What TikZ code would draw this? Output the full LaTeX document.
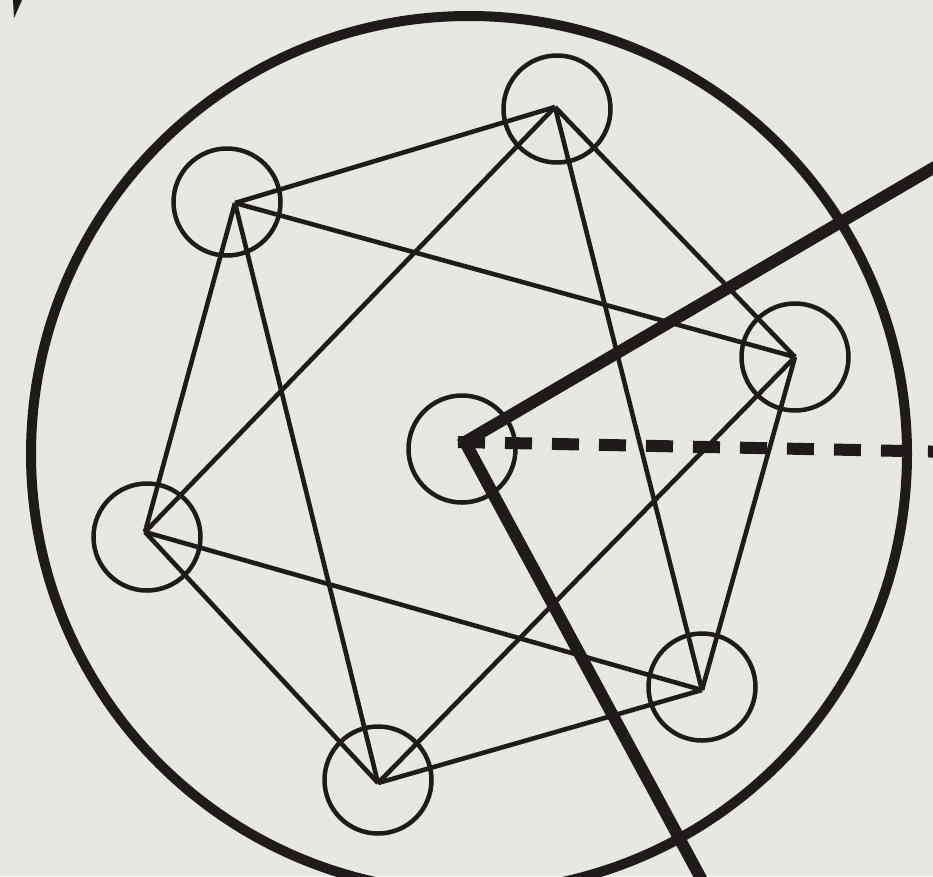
\documentclass[tikz,border=0pt]{standalone}
\begin{document}
\begin{tikzpicture}[x=1pt,y=-1pt,
  ring/.style={circle,draw=inkc,line width=4.5pt,minimum size=107pt,inner sep=0pt},
  thinedge/.style={draw=inkc,line width=4.6pt},
  thickedge/.style={draw=inkc,line width=12pt}]
\definecolor{bgc}{HTML}{E8E8E2}
\definecolor{inkc}{HTML}{1F1B1B}
\fill[bgc] (0,0) rectangle (933,876);
\useasboundingbox (0,0) rectangle (933,876);
\clip (0,0) rectangle (933,876);
% vertices
\coordinate (A) at (555,107);
\coordinate (B) at (235,203);
\coordinate (C) at (795,357);
\coordinate (D) at (145,532);
\coordinate (E) at (702,690);
\coordinate (F) at (378,783);
\coordinate (O) at (465,442);
% rings
\node[ring] (rA) at (557,109) {};
\node[ring] (rB) at (227,202) {};
\node[ring] (rC) at (795,357) {};
\node[ring] (rD) at (147,537) {};
\node[ring] (rE) at (702,687) {};
\node[ring] (rF) at (378,780) {};
\node[ring] (rO) at (462,449) {};
% edges
\foreach \p/\q in {A/B,A/C,A/E,A/D,B/C,B/D,B/F,C/E,C/F,D/E,D/F,E/F}
  \draw[thinedge] (\p) -- (\q);
% big circle
\draw[inkc,line width=10pt] (469,454) circle[radius=438];
% thick lines
\coordinate (U) at (940,164);
\coordinate (W) at (704,884);
\coordinate (R) at (940,451.7);
\coordinate (Os) at (458,442);
\draw[thickedge,dash pattern=on 27pt off 20pt] (Os) -- (R);
\draw[thickedge,line join=miter] (U) -- (O) -- (W);
% corner wedge
\fill[inkc] (13,0) -- (22,0) -- (14,18) -- cycle;
\end{tikzpicture}
\end{document}
